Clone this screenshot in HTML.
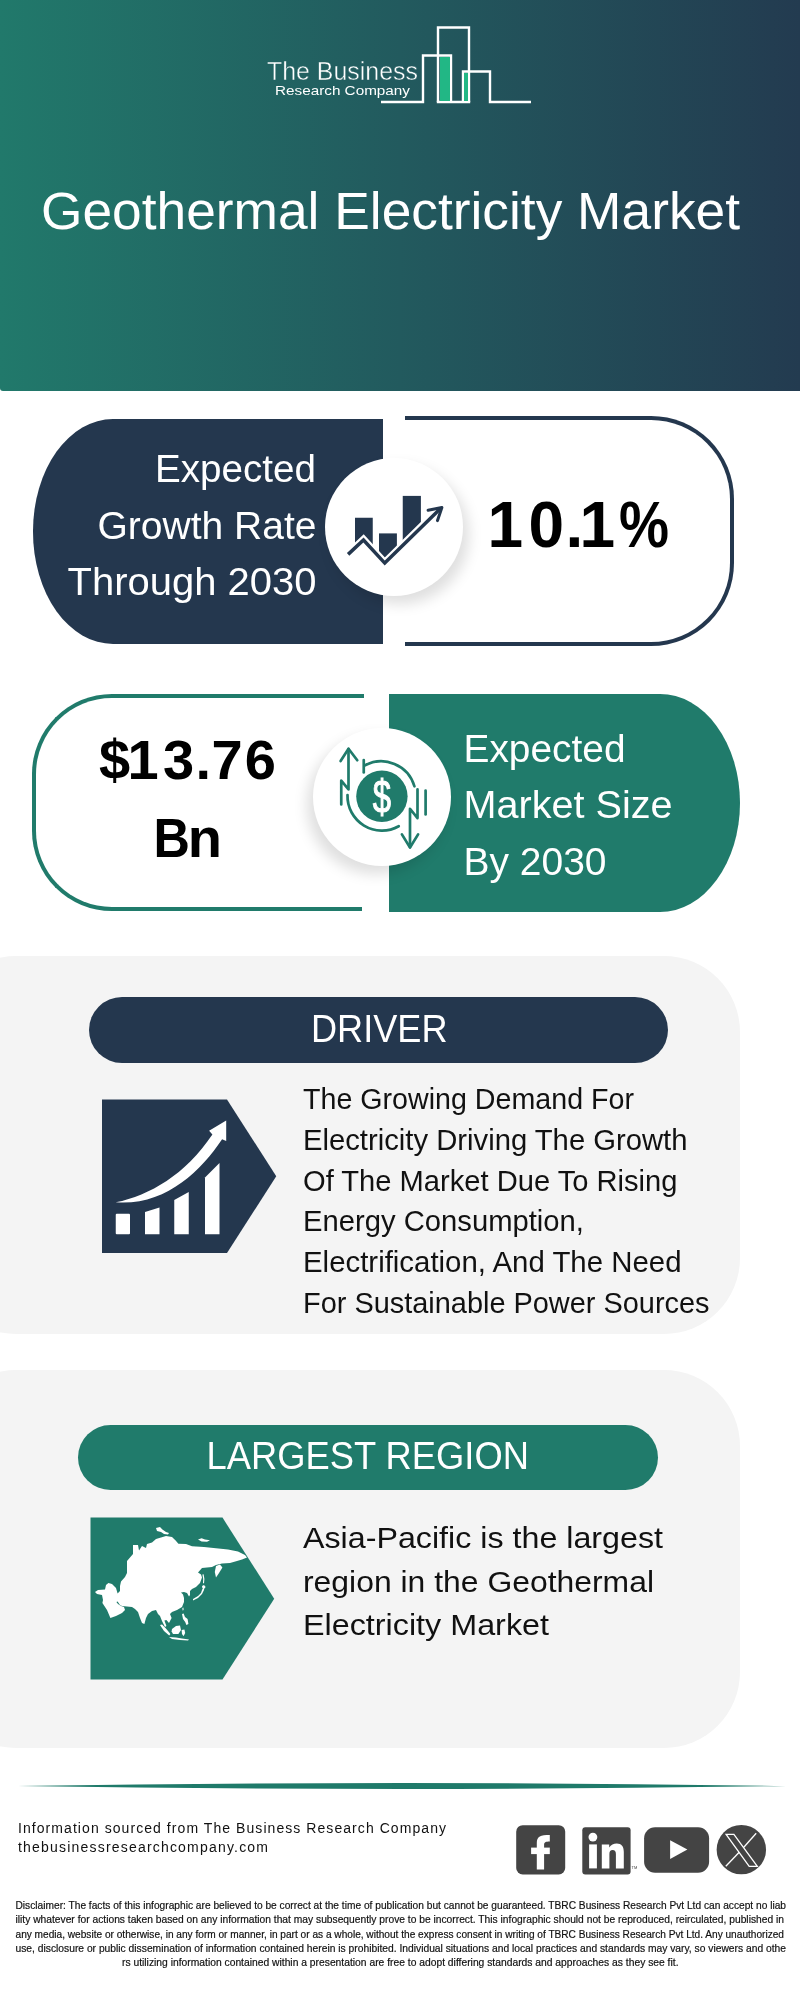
<!DOCTYPE html>
<html>
<head>
<meta charset="utf-8">
<style>
*{margin:0;padding:0;box-sizing:border-box;}
html,body{width:800px;height:2000px;overflow:hidden;background:#fff;}
body{position:relative;font-family:"Liberation Sans",Arial,sans-serif;}
.abs{position:absolute;}
#hdr{left:0;top:0;width:800px;height:391px;background:linear-gradient(90deg,#21796b 0%,#225a5e 50%,#233b50 100%);border-bottom-left-radius:3px;}
#c1dark{left:33px;top:419px;width:350px;height:225px;background:#24374e;border-radius:80px 0 0 80px/112px 0 0 112px;}
#c1box{left:405px;top:416.4px;width:329px;height:229.4px;border:4px solid #24374e;border-left:none;border-radius:0 83px 83px 0;}
.circ{width:138px;height:138px;border-radius:50%;background:#fff;box-shadow:6px 8px 14px rgba(0,0,0,0.13);}
#c2box{left:32px;top:694px;width:332px;height:217px;border:4px solid #207b6b;border-right:none;border-radius:80px 0 0 80px;}
#c2teal{left:389px;top:694px;width:351px;height:218px;background:#207b6b;border-radius:0 80px 80px 0/0 109px 109px 0;}
.panel{left:-60px;width:800px;background:#f4f4f4;border-radius:76px;}
.pill{height:66px;border-radius:33px;}
#ov{left:0;top:0;will-change:transform;}
#ov text{font-family:"Liberation Sans",Arial,sans-serif;}
</style>
</head>
<body>
<div id="hdr" class="abs"></div>
<div id="c1dark" class="abs"></div>
<div id="c1box" class="abs"></div>
<div class="abs circ" style="left:325px;top:458px;"></div>
<div id="c2box" class="abs"></div>
<div id="c2teal" class="abs"></div>
<div class="abs" style="left:361.5px;top:905px;width:4px;height:8px;background:#fff;"></div>
<div class="abs circ" style="left:313px;top:728px;box-shadow:-6px 8px 14px rgba(0,0,0,0.13);"></div>
<div class="abs panel" style="top:956px;height:378px;"></div>
<div class="abs pill" style="left:89px;top:997px;width:579px;background:#24374e;"></div>
<div class="abs panel" style="top:1370px;height:378px;"></div>
<div class="abs pill" style="left:78px;top:1425px;width:580px;height:65px;background:#207b6b;"></div>

<svg id="ov" class="abs" width="800" height="2000" viewBox="0 0 800 2000">
<defs><linearGradient id="hg" gradientUnits="userSpaceOnUse" x1="0" y1="0" x2="800" y2="0"><stop offset="0" stop-color="#21796b"/><stop offset="0.5" stop-color="#225a5e"/><stop offset="1" stop-color="#233b50"/></linearGradient></defs>
<!-- LOGO -->
<g fill="none" stroke="#fff" stroke-width="2.4">
  <polyline points="381,102 423,102 423,55.5 451,55.5 451,102"/>
  <polyline points="438,102 438,27.5 469,27.5 469,102"/>
  <polyline points="463,102 463,71.5 490,71.5 490,102 531,102"/>
  <line x1="436.8" y1="102" x2="470.2" y2="102"/>
</g>
<rect x="440" y="57" width="10" height="44" fill="#22b785"/>
<rect x="464" y="73" width="4" height="28" fill="#22b785"/>
<text x="267" y="80" fill="#fff" stroke="url(#hg)" stroke-width="0.45" font-size="26" textLength="151" lengthAdjust="spacingAndGlyphs">The Business</text>
<text x="275" y="95" fill="#fff" font-size="13.4" textLength="135" lengthAdjust="spacingAndGlyphs">Research Company</text>
<!-- TITLE -->
<text x="41" y="229" fill="#fff" font-size="51" textLength="699" lengthAdjust="spacingAndGlyphs">Geothermal Electricity Market</text>

<!-- CARD 1 -->
<g fill="#fff" font-size="38" text-anchor="end">
  <text x="316" y="482" textLength="161" lengthAdjust="spacingAndGlyphs">Expected</text>
  <text x="316.5" y="539" textLength="219" lengthAdjust="spacingAndGlyphs">Growth Rate</text>
  <text x="316.5" y="595" textLength="249" lengthAdjust="spacingAndGlyphs">Through 2030</text>
</g>
<g fill="#000" font-size="64" font-weight="bold"><text x="487.4 528.6 565.6 579.4" y="547">10.1</text><text x="618.9" y="547" textLength="50" lengthAdjust="spacingAndGlyphs">%</text></g>
<!-- growth icon -->
<g fill="#24374e">
  <rect x="355" y="517.75" width="17.75" height="42"/>
  <rect x="379" y="533.4" width="17.9" height="31"/>
  <rect x="402.75" y="495.9" width="18.15" height="60"/>
</g>
<polygon points="348,554.4 363.5,540 384.75,563.1 440,508.75 440,545 420,566 348,566" fill="#fff"/>
<polyline points="348.1,554.4 363.5,540 384.75,563.1 440,508.75" fill="none" stroke="#fff" stroke-width="8"/>
<polyline points="348.1,554.4 363.5,540 384.75,563.1 440.5,508.5" fill="none" stroke="#24374e" stroke-width="3.5"/>
<polyline points="428.1,510.25 441.9,507.5 437.5,520.6" fill="none" stroke="#24374e" stroke-width="3" stroke-linecap="round" stroke-linejoin="round"/>

<!-- CARD 2 -->
<g fill="#000" font-size="56" font-weight="bold">
  <text x="99.1 127.4 162.9 195.5 211.6 244.8" y="779">$13.76</text>
  <text x="153.6" y="857" textLength="36.4" lengthAdjust="spacingAndGlyphs">B</text><text x="187.8" y="857">n</text>
</g>
<g fill="#fff" font-size="38">
  <text x="463.5" y="762" textLength="162" lengthAdjust="spacingAndGlyphs">Expected</text>
  <text x="463.5" y="818" textLength="209" lengthAdjust="spacingAndGlyphs">Market Size</text>
  <text x="463.5" y="874.5" textLength="143" lengthAdjust="spacingAndGlyphs">By 2030</text>
</g>
<!-- dollar icon -->
<g stroke="#207b6b" stroke-width="2.7" fill="none" stroke-linecap="round" stroke-linejoin="round">
  <polyline points="340.6,761 348.5,748.75 357.25,760.25"/>
  <polyline points="348.5,749 348.5,789.4 341.25,780.6 341.25,804.4"/>
  <polyline points="401.9,834.4 410,847.5 418.1,834.4"/>
  <polyline points="410,847 410,808.75 417.5,818.1 417.5,789.4"/>
  <line x1="425.6" y1="790.6" x2="425.6" y2="814.4"/>
  <path d="M364.5,765.6 A34.5,34.5 0 0 1 414.4,786.25"/>
  <line x1="363.75" y1="760" x2="363.75" y2="772.5"/>
  <path d="M347.5,795 A34.5,34.5 0 0 0 398.75,826.25"/>
</g>
<circle cx="381.9" cy="796.3" r="25.7" fill="#207b6b"/>
<text x="0" y="0" fill="#fff" stroke="#fff" stroke-width="1.1" font-size="47" text-anchor="middle" transform="translate(381.9,812.5) scale(0.7,1)">$</text>

<!-- DRIVER -->
<text x="311" y="1042" fill="#fff" font-size="38" textLength="136.5" lengthAdjust="spacingAndGlyphs">DRIVER</text>
<polygon points="102,1099.5 227,1099.5 276.25,1176.25 227,1253 102,1253" fill="#24374e"/>
<g fill="#fff">
  <rect x="115.75" y="1213.75" width="14.25" height="20.5" rx="1"/>
  <path d="M145,1212 L159.5,1207.5 L159.5,1234.25 L145,1234.25 Z"/>
  <path d="M174.25,1200 L188.75,1192 L188.75,1234.25 L174.25,1234.25 Z"/>
  <path d="M205,1177.5 L219.5,1163 L219.5,1234.25 L205,1234.25 Z"/>
  <path d="M115.7,1202.3 C150,1195 185,1175 212.4,1134.4 L209.1,1130.8 L226.2,1120.6 L226.2,1140.9 L222.1,1139.25 C200,1172 165,1206 115.7,1202.3 Z"/>
</g>
<g fill="#111" font-size="30">
  <text x="303" y="1109" textLength="331" lengthAdjust="spacingAndGlyphs">The Growing Demand For</text>
  <text x="303" y="1150" textLength="384.5" lengthAdjust="spacingAndGlyphs">Electricity Driving The Growth</text>
  <text x="303" y="1191" textLength="374.5" lengthAdjust="spacingAndGlyphs">Of The Market Due To Rising</text>
  <text x="303" y="1231" textLength="281" lengthAdjust="spacingAndGlyphs">Energy Consumption,</text>
  <text x="303" y="1272" textLength="378.5" lengthAdjust="spacingAndGlyphs">Electrification, And The Need</text>
  <text x="303" y="1313" textLength="406.5" lengthAdjust="spacingAndGlyphs">For Sustainable Power Sources</text>
</g>

<!-- REGION -->
<text x="206.5" y="1469" fill="#fff" font-size="38" textLength="322.5" lengthAdjust="spacingAndGlyphs">LARGEST REGION</text>
<polygon points="90.5,1517.6 222.5,1517.6 274.2,1598.7 222.5,1679.6 90.5,1679.6" fill="#207b6b"/>
<g transform="translate(92,1525) scale(0.2)" fill="#fff">
  <path d="M15,335 L30,325 L65,322 L70,300 L82,290 L100,295 L120,315 L128,342 L140,330 L140,305 L145,282 L165,260 L175,240 L175,180 L205,145 L205,100 L230,100 L235,128 L250,105 L270,115 L275,95 L300,88 L320,70 L345,62 L370,55 L400,60 L418,78 L432,94 L470,95 L500,106 L560,110 L620,116 L680,122 L730,133 L765,150 L775,163 L750,172 L725,180 L690,190 L650,193 L620,200 L600,210 L550,215 L530,237 L545,248 L550,262 L540,290 L520,310 L500,320 L490,330 L490,350 L485,358 L475,340 L460,335 L445,338 L455,348 L460,365 L460,385 L450,410 L425,425 L400,435 L390,445 L398,465 L385,490 L372,475 L362,478 L372,505 L365,510 L350,480 L340,455 L330,445 L320,425 L300,430 L280,445 L270,465 L262,495 L250,490 L240,465 L230,435 L215,420 L200,410 L175,407 L150,405 L140,400 L128,382 L122,385 L130,395 L145,405 L160,410 L165,425 L150,440 L120,455 L92,465 L75,425 L52,390 L55,375 L50,350 L25,345 Z"/>
  <path d="M320,15 L340,10 L352,22 L370,35 L385,40 L380,48 L360,45 L345,35 L325,30 Z"/>
  <path d="M530,72 L548,66 L565,72 L590,76 L575,84 L548,82 Z"/>
  <path d="M620,205 L640,198 L652,212 L632,245 L620,262 L614,235 Z"/>
  <path d="M552,248 L558,246 L562,270 L560,292 L555,290 L556,270 Z"/>
  <path d="M505,370 L530,355 L545,340 L550,325 L555,315 L562,310 L560,325 L550,345 L530,365 L505,377 Z"/>
  <path d="M550,305 L560,300 L568,310 L562,318 L552,315 Z"/>
  <path d="M452,415 L457,413 L458,425 L453,427 Z"/>
  <path d="M450,445 L458,443 L465,460 L478,470 L482,495 L472,500 L466,485 L455,470 Z"/>
  <path d="M400,520 L420,505 L440,503 L445,525 L432,545 L405,545 L398,533 Z"/>
  <path d="M448,525 L462,522 L466,540 L458,556 L450,545 Z"/>
  <path d="M340,500 L350,498 L372,520 L392,545 L386,552 L360,530 Z"/>
  <path d="M385,560 L420,563 L450,567 L485,572 L480,578 L440,575 L400,570 Z"/>
</g>
<g fill="#111" font-size="30">
  <text x="303" y="1548" textLength="360" lengthAdjust="spacingAndGlyphs">Asia-Pacific is the largest</text>
  <text x="303" y="1592" textLength="351" lengthAdjust="spacingAndGlyphs">region in the Geothermal</text>
  <text x="303" y="1635" textLength="246" lengthAdjust="spacingAndGlyphs">Electricity Market</text>
</g>

<!-- FOOTER -->
<path d="M18,1786 Q402,1780 786,1786 Q402,1792 18,1786 Z" fill="#1f7a6a"/>
<g fill="#111" font-size="14">
  <text x="18" y="1833" textLength="428" lengthAdjust="spacing">Information sourced from The Business Research Company</text>
  <text x="18" y="1852" textLength="250" lengthAdjust="spacing">thebusinessresearchcompany.com</text>
</g>
<!-- social -->
<rect x="516.2" y="1825.2" width="49" height="49.2" rx="6.5" fill="#444"/>
<path d="M536.8,1869.6 V1843 C536.8,1836.5 540.5,1835 549.8,1835 V1841.5 C545.5,1841.5 544.1,1842.2 544.1,1845 V1869.6 Z" fill="#fff"/>
<rect x="531.1" y="1847.6" width="18.7" height="6.5" fill="#fff"/>
<rect x="582.3" y="1827.3" width="48.3" height="47.1" rx="3" fill="#444"/>
<circle cx="592.9" cy="1837.1" r="4.4" fill="#fff"/>
<rect x="589.1" y="1844.4" width="7.8" height="24" fill="#fff"/>
<path d="M601.8,1868.4 V1844.4 H609.2 V1847.5 C611,1844.8 613.5,1843.6 616.8,1843.6 C621.5,1843.6 623.8,1846.5 623.8,1852 V1868.4 H615.9 V1854 C615.9,1851.5 614.8,1850 612.6,1850 C610.4,1850 609.4,1851.5 609.4,1854 V1868.4 Z" fill="#fff"/>
<text x="631.5" y="1868.5" fill="#444" font-size="4">TM</text>
<rect x="644.1" y="1827.3" width="65" height="45.5" rx="11" fill="#444"/>
<polygon points="670.1,1840.3 670.1,1859 687.4,1849.6" fill="#fff"/>
<circle cx="741.35" cy="1849.65" r="24.7" fill="#444"/>
<g fill="none" stroke="#fff" stroke-width="1.3" stroke-linejoin="miter">
  <polygon points="726.1,1834.3 733.9,1834.3 757.3,1866.3 749.2,1866.3"/>
  <line x1="756.2" y1="1833.3" x2="743.8" y2="1847.2"/>
  <line x1="739.2" y1="1852.2" x2="725.8" y2="1866.3"/>
</g>
<!-- disclaimer -->
<g fill="#111" stroke="#111" stroke-width="0.2" font-size="11">
  <text x="15.5" y="1909.3" textLength="770.5" lengthAdjust="spacingAndGlyphs">Disclaimer: The facts of this infographic are believed to be correct at the time of publication but cannot be guaranteed. TBRC Business Research Pvt Ltd can accept no liab</text>
  <text x="15.5" y="1923.3" textLength="768.5" lengthAdjust="spacingAndGlyphs">ility whatever for actions taken based on any information that may subsequently prove to be incorrect. This infographic should not be reproduced, reirculated, published in</text>
  <text x="15.5" y="1937.5" textLength="768.5" lengthAdjust="spacingAndGlyphs">any media, website or otherwise, in any form or manner, in part or as a whole, without the express consent in writing of TBRC Business Research Pvt Ltd. Any unauthorized</text>
  <text x="15.5" y="1951.8" textLength="770.5" lengthAdjust="spacingAndGlyphs">use, disclosure or public dissemination of information contained herein is prohibited. Individual situations and local practices and standards may vary, so viewers and othe</text>
  <text x="122" y="1965.8" textLength="556.5" lengthAdjust="spacingAndGlyphs">rs utilizing information contained within a presentation are free to adopt differing standards and approaches as they see fit.</text>
</g>
</svg>
</body>
</html>
